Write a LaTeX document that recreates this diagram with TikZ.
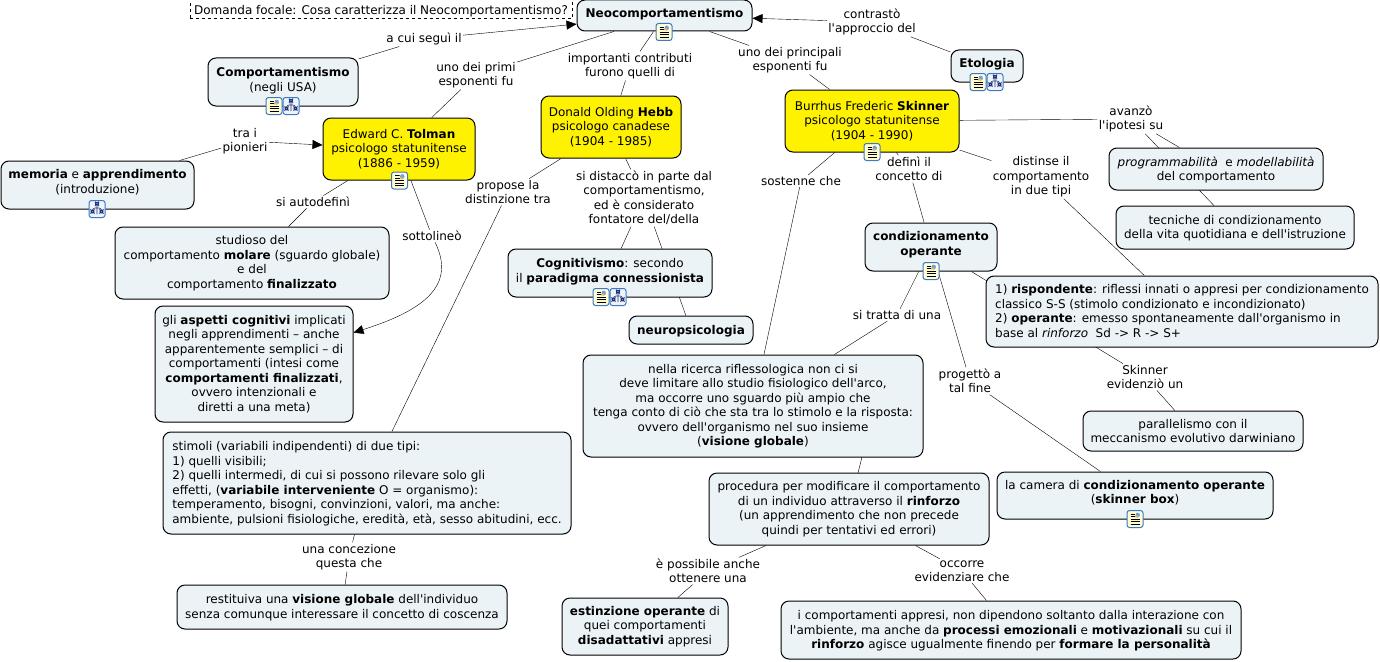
\documentclass[tikz,border=0pt]{standalone}
\usepackage{fontspec}
\setmainfont{DejaVu Sans}[Ligatures=TeXOff]
\usetikzlibrary{arrows.meta,backgrounds}
\definecolor{conceptfill}{RGB}{235,243,246}
\definecolor{iconblue}{RGB}{60,120,200}
\definecolor{iconnavy}{RGB}{30,50,120}
\tikzset{
    concept/.style={draw,rounded corners=8pt,fill=conceptfill,align=center,inner sep=2pt},
    person/.style={concept,fill=yellow},
    textbox/.style={concept,align=left},
    linklabel/.style={inner sep=1pt,align=center},
    focal/.style={draw,dashed,inner sep=2pt,text height=12pt},
    lifted/.style={text depth=#1},
    arr/.style={-{Triangle[length=10pt,width=9pt]}},
    iconbase/.style={draw=iconblue,rounded corners=2.5pt,line width=1pt,minimum width=16pt,minimum height=17pt,inner sep=0pt},
    docicon/.style={iconbase,fill=yellow!18,path picture={
        \begin{scope}[shift={(path picture bounding box.center)},line width=.8pt,black]
            \foreach \yy in {-5,-2.5,0,2.5,5} \draw (-4.5,\yy) -- (4.5,\yy);
            \fill[white] (0,-7) rectangle (6,-1);
            \fill[iconblue!70] (0.5,-6.5) rectangle (5,-1.5);
            \fill[yellow!60!brown] (0.5,-3) rectangle (3,-1.5);
        \end{scope}}},
    treeicon/.style={iconbase,fill=iconblue!8,path picture={
        \begin{scope}[shift={(path picture bounding box.center)},line width=.6pt,iconnavy]
            \draw (-1.5,-6.5) rectangle (1.5,-4) (0,-4) -- (0,5);
            \draw (-4.5,1) -- (-4.5,-1) -- (4.5,-1) -- (4.5,1);
            \draw (-6,1) rectangle (-3,4) (3,1) rectangle (6,4);
        \end{scope}}},
}

\begin{document}
\begin{tikzpicture}[x=1pt,y=-1pt,line width=1pt,font=\fontsize{12}{14.5}\selectfont]
    \useasboundingbox (0,0) rectangle (1380,661);

    % concepts
    \node[focal,minimum width=382,minimum height=19] (focus) at (381,9.5) {Domanda focale: Cosa caratterizza il Neocomportamentismo?};
    \node[concept,lifted=6pt,minimum width=175,minimum height=31] (neo) at (664.5,15.5) {\textbf{Neocomportamentismo}};
    \node[concept,lifted=5pt,minimum width=150,minimum height=48] (comport) at (283,82) {\textbf{Comportamentismo}\\(negli USA)};
    \node[person,minimum width=152,minimum height=62] (tolman) at (399,149) {Edward C. \textbf{Tolman}\\psicologo statunitense\\(1886 - 1959)};
    \node[concept,lifted=7pt,minimum width=193,minimum height=48] (memoria) at (97.5,185) {\textbf{memoria} e \textbf{apprendimento}\\(introduzione)};
    \node[person,minimum width=140,minimum height=62] (hebb) at (611,127) {Donald Olding \textbf{Hebb}\\psicologo canadese\\(1904 - 1985)};
    \node[person,minimum width=174,minimum height=62] (skinner) at (872,121) {Burrhus Frederic \textbf{Skinner}\\psicologo statunitense\\(1904 - 1990)};
    \node[concept,lifted=6pt,minimum width=72,minimum height=32] (etologia) at (987,66) {\textbf{Etologia}};
    \node[concept,lifted=1pt,minimum width=214,minimum height=42] (prog) at (1216,169) {\textit{programmabilità}\ \ e \textit{modellabilità}\\del comportamento};
    \node[concept,lifted=1pt,minimum width=238,minimum height=43] (tecniche) at (1235,227.5) {tecniche di condizionamento\\della vita quotidiana e dell'istruzione};
    \node[concept,lifted=7pt,minimum width=132,minimum height=48] (condiz) at (931,247) {\textbf{condizionamento}\\\textbf{operante}};
    \node[textbox,lifted=1pt,minimum width=392,minimum height=71] (tipi) at (1182,311.5) {1) \textbf{rispondente}: riflessi innati o appresi per condizionamento\\classico S-S (stimolo condizionato e incondizionato)\\2) \textbf{operante}: emesso spontaneamente dall'organismo in\\base al \textit{rinforzo}\ \ Sd -> R -> S+};
    \node[concept,minimum width=220,minimum height=40] (darwin) at (1193,431) {parallelismo con il\\meccanismo evolutivo darwiniano};
    \node[concept,lifted=7pt,minimum width=276,minimum height=47] (camera) at (1135,495.5) {la camera di \textbf{condizionamento operante}\\(\textbf{skinner box})};
    \node[concept,minimum width=274,minimum height=72] (studioso) at (252,263) {studioso del\\comportamento \textbf{molare} (sguardo globale)\\e del\\comportamento \textbf{finalizzato}};
    \node[concept,minimum width=198,minimum height=116] (aspetti) at (254,364) {gli \textbf{aspetti cognitivi} implicati\\negli apprendimenti – anche\\apparentemente semplici – di\\comportamenti (intesi come\\\textbf{comportamenti finalizzati},\\ovvero intenzionali e\\diretti a una meta)};
    \node[concept,lifted=5pt,minimum width=204,minimum height=48] (cognit) at (610,273) {\textbf{Cognitivismo}: secondo\\il \textbf{paradigma connessionista}};
    \node[concept,lifted=1pt,minimum width=124,minimum height=28] (neuro) at (691,330) {\textbf{neuropsicologia}};
    \node[concept,minimum width=340,minimum height=102] (ricerca) at (753,406) {nella ricerca riflessologica non ci si\\deve limitare allo studio fisiologico dell'arco,\\ma occorre uno sguardo più ampio che\\tenga conto di ciò che sta tra lo stimolo e la risposta:\\ovvero dell'organismo nel suo insieme\\(\textbf{visione globale})};
    \node[textbox,lifted=1pt,minimum width=408,minimum height=102] (stimoli) at (367,483) {stimoli (variabili indipendenti) di due tipi:\\1) quelli visibili;\\2) quelli intermedi, di cui si possono rilevare solo gli\\effetti, (\textbf{variabile interveniente} O = organismo):\\temperamento, bisogni, convinzioni, valori, ma anche:\\ambiente, pulsioni fisiologiche, eredità, età, sesso abitudini, ecc.};
    \node[concept,lifted=1pt,minimum width=330,minimum height=44] (restit) at (342,607) {restituiva una \textbf{visione globale} dell'individuo\\senza comunque interessare il concetto di coscenza};
    \node[concept,minimum width=280,minimum height=72] (proced) at (849,509) {procedura per modificare il comportamento\\di un individuo attraverso il \textbf{rinforzo}\\(un apprendimento che non precede\\quindi per tentativi ed errori)};
    \node[concept,minimum width=166,minimum height=57] (estinz) at (645,626.5) {\textbf{estinzione operante} di\\quei comportamenti\\\textbf{disadattativi} appresi};
    \node[concept,lifted=1pt,minimum width=460,minimum height=58] (icomp) at (1011,630) {i comportamenti appresi, non dipendono soltanto dalla interazione con\\l'ambiente, ma anche da \textbf{processi emozionali} e \textbf{motivazionali} su cui il\\\textbf{rinforzo} agisce ugualmente finendo per \textbf{formare la personalità}};

    % link labels
    \node[linklabel] (lseguì) at (424,39) {a cui seguì il};
    \node[linklabel] (lcontr) at (872,22) {contrastò\\l'approccio del};
    \node[linklabel] (lprimi) at (476,75) {uno dei primi\\esponenti fu};
    \node[linklabel] (lcontrib) at (630,66) {importanti contributi\\furono quelli di};
    \node[linklabel] (lprinc) at (790,60) {uno dei principali\\esponenti fu};
    \node[linklabel] (lpion) at (245,141) {tra i\\pionieri};
    \node[linklabel] (lavanzo) at (1131,119) {avanzò\\l'ipotesi su};
    \node[linklabel] (lautod) at (313,202) {si autodefinì};
    \node[linklabel] (lsott) at (432,236) {sottolineò};
    \node[linklabel] (lprop) at (508,192) {propose la\\distinzione tra};
    \node[linklabel] (ldist) at (644,198) {si distaccò in parte dal\\comportamentismo,\\ed è considerato\\fontatore del/della};
    \node[linklabel] (lsost) at (801,181) {sostenne che};
    \node[linklabel] (ldefin) at (909,169) {definì il\\concetto di};
    \node[linklabel] (ldue) at (1041,177) {distinse il\\comportamento\\in due tipi};
    \node[linklabel] (ltratta) at (897,315) {si tratta di una};
    \node[linklabel] (lprog) at (970,381) {progettò a\\tal fine};
    \node[linklabel] (levid) at (1145,377) {Skinner\\evidenziò un};
    \node[linklabel] (lconc) at (349,557) {una concezione\\questa che};
    \node[linklabel] (lposs) at (708,571) {è possibile anche\\ottenere una};
    \node[linklabel] (locc) at (962,571) {occorre\\evidenziare che};
    \coordinate (ricout) at (862,457);
    \coordinate (procin) at (858,473);

    % connectors, behind the concepts
    \begin{scope}[on background layer]
        \path (comport) edge (lseguì)
              (etologia) edge (lcontr)
              (neo) edge (lprimi) (lprimi) edge (tolman)
              (neo) edge (lcontrib) (lcontrib) edge (hebb)
              (neo) edge (lprinc) (lprinc) edge (skinner)
              (memoria) edge (lpion)
              (skinner) edge (lavanzo) (lavanzo) edge (prog) (lavanzo) edge (tecniche)
              (tolman) edge (lautod) (lautod) edge (studioso)
              (tolman) edge (lsott)
              (hebb) edge (lprop) (lprop) edge (stimoli)
              (hebb) edge (ldist) (ldist) edge (cognit) (ldist) edge (neuro)
              (skinner) edge (lsost) (lsost) edge (ricerca)
              (skinner) edge (ldefin) (ldefin) edge (condiz)
              (skinner) edge (ldue) (ldue) edge (tipi)
              (condiz) edge (ltratta) (ltratta) edge (ricerca)
              (condiz) edge (lprog) (lprog) edge (camera)
              (condiz) edge (levid) (levid) edge (darwin)
              (ricout) edge (procin)
              (proced) edge (lposs) (lposs) edge (estinz)
              (proced) edge (locc) (locc) edge (icomp)
              (stimoli) edge (lconc) (lconc) edge (restit);
        \draw[arr] (lseguì) -- (neo);
        \draw[arr] (lcontr) -- (neo);
        \draw[arr] (lpion) -- (tolman);
        \draw[arr] (lsott) .. controls (456,285) and (425,310) .. (aspetti);
    \end{scope}

    % icons
    \node[docicon] (neodoc) at (664,32) {};
    \node[docicon] (compdoc) at (274,106) {};
    \node[treeicon] (comptree) at (291,106) {};
    \node[docicon] (toldoc) at (399.5,180.5) {};
    \node[treeicon] (memtree) at (97,209) {};
    \node[docicon] (skindoc) at (872,152) {};
    \node[docicon] (etodoc) at (978,82) {};
    \node[treeicon] (etotree) at (995,82) {};
    \node[docicon] (conddoc) at (931,271) {};
    \node[docicon] (camdoc) at (1135,519) {};
    \node[docicon] (cogdoc) at (601,297) {};
    \node[treeicon] (cogtree) at (618,297) {};
\end{tikzpicture}
\end{document}
